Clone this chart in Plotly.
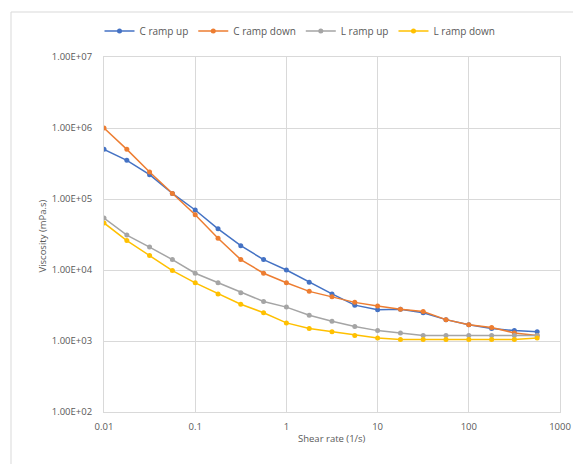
import plotly.graph_objects as go

shear_rate = [0.01, 0.0178, 0.0316, 0.0562, 0.1, 0.178, 0.316, 0.562, 1, 1.78,
              3.16, 5.62, 10, 17.8, 31.6, 56.2, 100, 178, 316, 562]

c_ramp_up = [5.0e5, 3.5e5, 2.2e5, 1.2e5, 7.0e4, 3.8e4, 2.2e4, 1.4e4, 1.0e4, 6.7e3,
             4.6e3, 3.2e3, 2.75e3, 2.8e3, 2.5e3, 2.0e3, 1.7e3, 1.5e3, 1.4e3, 1.35e3]
c_ramp_down = [1.0e6, 5.0e5, 2.4e5, 1.2e5, 6.0e4, 2.8e4, 1.4e4, 9.0e3, 6.6e3, 5.0e3,
               4.2e3, 3.5e3, 3.1e3, 2.8e3, 2.6e3, 2.0e3, 1.7e3, 1.55e3, 1.3e3, 1.2e3]
l_ramp_up = [5.4e4, 3.1e4, 2.1e4, 1.4e4, 9.0e3, 6.6e3, 4.8e3, 3.6e3, 3.0e3, 2.3e3,
             1.9e3, 1.6e3, 1.4e3, 1.3e3, 1.2e3, 1.2e3, 1.2e3, 1.2e3, 1.2e3, 1.2e3]
l_ramp_down = [4.6e4, 2.6e4, 1.6e4, 9.8e3, 6.6e3, 4.6e3, 3.3e3, 2.5e3, 1.8e3, 1.5e3,
               1.35e3, 1.2e3, 1.1e3, 1.05e3, 1.05e3, 1.05e3, 1.05e3, 1.05e3, 1.05e3, 1.1e3]

series_names = ["C ramp up", "C ramp down", "L ramp up", "L ramp down"]
series_values = [c_ramp_up, c_ramp_down, l_ramp_up, l_ramp_down]
colors = ["#4472C4", "#ED7D31", "#A5A5A5", "#FFC000"]

y_tickvals = [1e2, 1e3, 1e4, 1e5, 1e6, 1e7]
y_ticktext = ["1.00E+02", "1.00E+03", "1.00E+04", "1.00E+05", "1.00E+06", "1.00E+07"]
x_tickvals = [0.01, 0.1, 1, 10, 100, 1000]
x_ticktext = ["0.01", "0.1", "1", "10", "100", "1000"]

FONT = "Open Sans"
OFF = 8  # page body margin
W, H = 581 - OFF, 464 - OFF
L, R, T, B = 104 - OFF, 560 - OFF, 57 - OFF, 412 - OFF

def px(x):
    return (x - OFF - L) / (R - L)

def py(y):
    return (B - (y - OFF)) / (B - T)

fig = go.Figure()
for name, vals, col in zip(series_names, series_values, colors):
    fig.add_trace(go.Scatter(
        x=shear_rate, y=vals, name=name, mode="lines+markers",
        line=dict(color=col, width=1.5),
        marker=dict(color=col, size=5, symbol="circle"),
    ))

fig.update_layout(
    width=W, height=H,
    margin=dict(l=L, r=W - R, t=T, b=H - B, pad=0, autoexpand=False),
    paper_bgcolor="white", plot_bgcolor="white",
    font=dict(family=FONT, size=9, color="#595959"),
    showlegend=True,
    legend=dict(orientation="h", x=px(300), y=py(31), xanchor="center", yanchor="middle",
                font=dict(size=10, color="#595959"), itemwidth=30,
                bgcolor="rgba(0,0,0,0)"),
    xaxis=dict(type="log", range=[-2, 3], tickvals=x_tickvals, ticktext=x_ticktext,
               showgrid=True, gridcolor="#D9D9D9", gridwidth=1,
               showline=True, linecolor="#D9D9D9", mirror=True, zeroline=False,
               ticks="", ticklabelstandoff=6, tickfont=dict(size=9.5, color="#595959")),
    yaxis=dict(type="log", range=[2, 7], tickvals=y_tickvals, ticktext=y_ticktext,
               showgrid=True, gridcolor="#D9D9D9", gridwidth=1,
               showline=True, linecolor="#D9D9D9", mirror=True, zeroline=False,
               ticks="", ticklabelstandoff=9, tickfont=dict(size=9.5, color="#595959")),
    annotations=[
        dict(text="Viscosity (mPa.s)", x=px(33), y=py(236), xref="paper", yref="paper",
             showarrow=False, textangle=-90, font=dict(size=9.5, color="#595959")),
        dict(text="Shear rate (1/s)", x=px(332), y=py(447), xref="paper", yref="paper",
             showarrow=False, font=dict(size=9.5, color="#595959")),
    ],
    shapes=[
        dict(type="rect", xref="paper", yref="paper", x0=px(11), x1=px(600), y0=py(480), y1=py(12),
             line=dict(color="#D9D9D9", width=1), fillcolor="rgba(0,0,0,0)", layer="below"),
    ],
)

fig.write_html("out.html")
